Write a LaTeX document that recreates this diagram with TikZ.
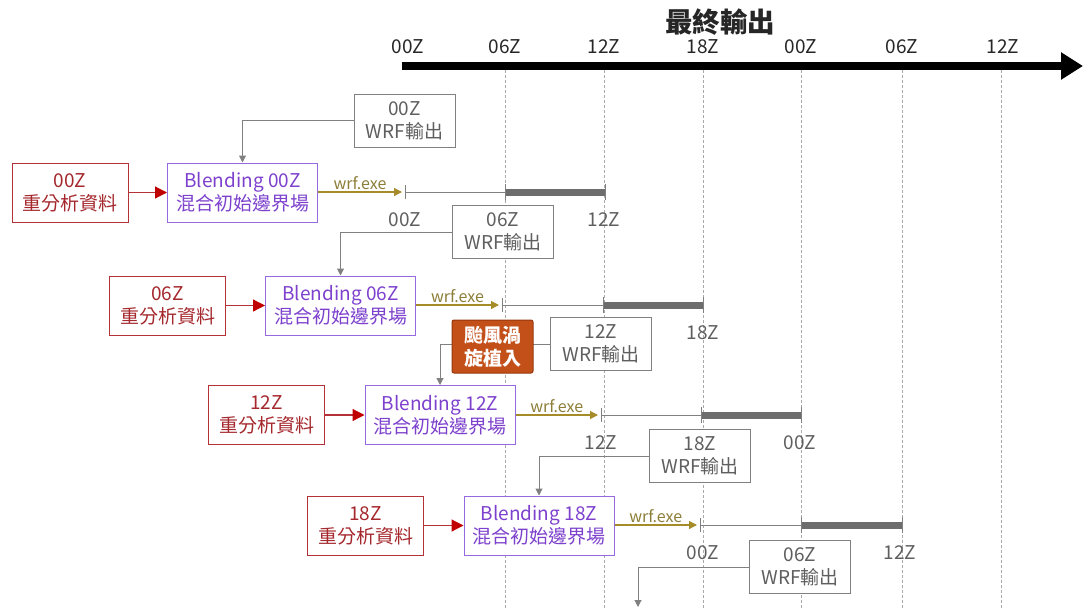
\documentclass[tikz,border=0pt]{standalone}
\usepackage{fontspec}
\setmainfont{Noto Sans CJK TC}
\usetikzlibrary{arrows.meta}
\definecolor{redT}{RGB}{165,40,45}
\definecolor{redB}{RGB}{180,50,55}
\definecolor{redA}{RGB}{192,0,0}
\definecolor{purT}{RGB}{125,65,205}
\definecolor{purB}{RGB}{150,105,225}
\definecolor{grT}{RGB}{95,95,95}
\definecolor{grB}{RGB}{128,128,128}
\definecolor{olv}{RGB}{165,140,40}
\definecolor{olvT}{RGB}{140,125,55}
\definecolor{orgF}{RGB}{195,80,25}
\definecolor{orgB}{RGB}{150,55,15}
\definecolor{dsh}{RGB}{170,170,170}
\tikzset{
  box/.style={draw, fill=white, line width=1pt, align=center, inner sep=0pt,
    font=\fontsize{19}{23}\selectfont},
  redbox/.style={box, draw=redB, text=redT, minimum width=116pt, minimum height=59pt},
  purbox/.style={box, draw=purB, text=purT, minimum width=150pt, minimum height=59pt},
  wrfbox/.style={box, draw=grB, text=grT, minimum width=101pt, minimum height=53pt},
  typh/.style={box, draw=orgB, fill=orgF, text=white, rounded corners=2pt,
    minimum width=81pt, minimum height=53pt, font=\fontsize{19}{23}\selectfont\bfseries},
  redarr/.style={draw=redB, line width=1.2pt, -{Triangle[length=12pt,width=12pt,fill=redA,color=redA]}},
  olvarr/.style={draw=olv, line width=1.2pt, -{Triangle[length=8pt,width=8pt]}},
  grarr/.style={draw=grB, line width=1pt, -{Triangle[length=7pt,width=7pt]}},
  tl/.style={draw=grB, line width=1pt},
  thk/.style={draw=grB!85!black, line width=7pt},
  tlab/.style={text=grT, font=\fontsize{19}{22}\selectfont, inner sep=0pt},
  axlab/.style={text=black!85, font=\fontsize{19}{22}\selectfont, inner sep=0pt},
  wrflab/.style={text=olvT, font=\fontsize{16}{18}\selectfont, inner sep=2pt},
  vdash/.style={draw=dsh, line width=0.6pt, dash pattern=on 3pt off 2pt}
}
\begin{document}
\begin{tikzpicture}[x=1pt,y=-1pt]
\useasboundingbox (0,0) rectangle (1083,608);
% dashed guides
\foreach \xx/\nm in {505/d1,604/d2,703/d3,801/d4,902/d5,1001/d6}{
  \coordinate (\nm t) at (\xx,70);
  \coordinate (\nm b) at (\xx,608);
  \draw[vdash] (\nm t) -- (\nm b);
}
% axis
\node[font=\fontsize{27.5}{32}\selectfont\bfseries, text=black!85] (title) at (720,22) {最終輸出};
\coordinate (axs) at (402,66);
\coordinate (axe) at (1083,66);
\draw[line width=8pt, -{Triangle[length=22pt,width=26pt]}] (axs) -- (axe);
\foreach \xx/\tt/\nm in {408/00Z/a1,505/06Z/a2,604/12Z/a3,703/18Z/a4,801/00Z/a5,902/06Z/a6,1003/12Z/a7}{
  \node[axlab] (\nm) at (\xx,47) {\tt};
}
% row boxes
\node[redbox] (r1) at (70,192.5) {00Z\\重分析資料};
\node[purbox] (b1) at (242.5,192.5) {Blending 00Z\\混合初始邊界場};
\node[redbox] (r2) at (167.5,305.5) {06Z\\重分析資料};
\node[purbox] (b2) at (340.5,305.5) {Blending 06Z\\混合初始邊界場};
\node[redbox] (r3) at (266.5,415) {12Z\\重分析資料};
\node[purbox] (b3) at (440,415) {Blending 12Z\\混合初始邊界場};
\node[redbox] (r4) at (365.5,525.5) {18Z\\重分析資料};
\node[purbox] (b4) at (539,525.5) {Blending 18Z\\混合初始邊界場};
\foreach \i in {1,2,3,4}{ \draw[redarr] (r\i) -- (b\i); }
% timelines
\foreach \i/\yy/\st/\ta/\tb in {1/192/405/505/605, 2/305/502/603/703, 3/415/601/701/801, 4/525/700/801/902}{
  \coordinate (s\i) at (\st,\yy);
  \coordinate (e\i) at (\st-3,\yy);
  \coordinate (p\i) at (\ta,\yy);
  \coordinate (q\i) at (\tb,\yy);
  \draw[olvarr] (b\i.east |- e\i) -- node[wrflab, above] {wrf.exe} (e\i);
  \draw[tl] (s\i) -- (p\i);
  \draw[thk] (p\i) -- (q\i);
  \draw[tl] ([yshift=-7pt]s\i) -- ([yshift=7pt]s\i);
  \draw[tl] ([yshift=-8pt]p\i) -- ([yshift=8pt]p\i);
  \draw[tl] ([yshift=-8pt]q\i) -- ([yshift=8pt]q\i);
}
% timeline labels
\node[tlab] (l1a) at (405,220) {00Z};
\node[tlab] (l1b) at (604,220) {12Z};
\node[tlab] (l2b) at (703,333) {18Z};
\node[tlab] (l3a) at (601,443) {12Z};
\node[tlab] (l3b) at (800,443) {00Z};
\node[tlab] (l4a) at (703,553) {00Z};
\node[tlab] (l4b) at (900,553) {12Z};
% WRF output boxes
\node[wrfbox] (w1) at (404.5,120.5) {00Z\\WRF輸出};
\node[wrfbox] (w2) at (503,232) {06Z\\WRF輸出};
\node[wrfbox] (w3) at (601,344) {12Z\\WRF輸出};
\node[wrfbox] (w4) at (700,456) {18Z\\WRF輸出};
\node[wrfbox] (w5) at (800,567) {06Z\\WRF輸出};
\coordinate (w5end) at (638,607);
\draw[grarr] (w1.west) -| (b1.north);
\draw[grarr] (w2.west) -| (b2.north);
\draw[grarr] (w3.west) -| (b3.north);
\draw[grarr] (w4.west) -| (b4.north);
\draw[grarr] (w5.west) -| (w5end);
% typhoon bogus box
\node[typh] (ty) at (492.5,346.5) {颱風渦\\旋植入};
\end{tikzpicture}
\end{document}
